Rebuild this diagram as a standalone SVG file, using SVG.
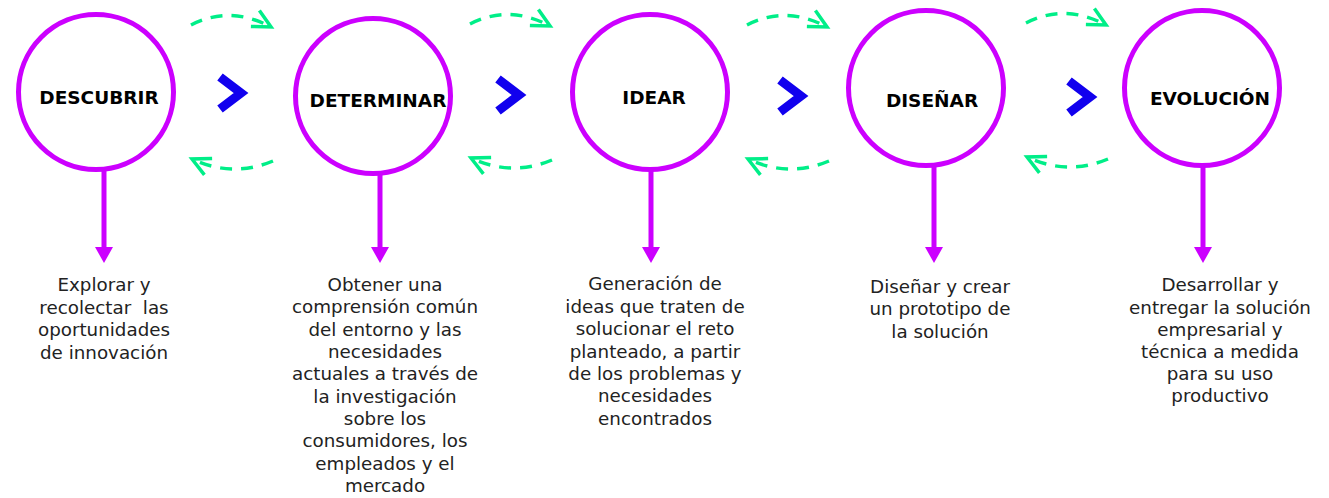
<svg xmlns="http://www.w3.org/2000/svg" width="1329" height="498" viewBox="0 0 1329 498">
<style>
.ring{fill:#fff;stroke:#cc00ff;stroke-width:5}
.title{font-family:"DejaVu Sans","Liberation Sans",sans-serif;font-weight:700;font-size:18.5px;fill:#000;text-anchor:middle}
.desc{font-family:"DejaVu Sans","Liberation Sans",sans-serif;font-size:18.3px;fill:#222;text-anchor:middle}
.stem{stroke:#cc00ff;stroke-width:5;fill:none}
.head{fill:#cc00ff}
.chev{fill:none;stroke:#1100ee;stroke-width:9;stroke-linejoin:miter}
.loop{fill:none;stroke:#00ee88;stroke-width:3.5;stroke-dasharray:12 9;marker-end:url(#open)}
</style>
<defs>
<marker id="open" markerUnits="userSpaceOnUse" viewBox="-22 -12 26 24" refX="0" refY="0" markerWidth="26" markerHeight="24" orient="auto">
<path d="M-18,-9 L0,0 L-18,9" fill="none" stroke="#00ee88" stroke-width="3.5"/>
</marker>
<g id="loops">
<path class="loop" d="M191,25 Q230,5 271,27"/>
<path class="loop" d="M273,161 Q232,178 192,159"/>
</g>
</defs>
<g id="connectors">
<path class="stem" d="M104,170 V249"/><polygon class="head" points="95,247 113,247 104,263"/>
<path class="stem" d="M380,174 V249"/><polygon class="head" points="371,247 389,247 380,263"/>
<path class="stem" d="M651,170 V249"/><polygon class="head" points="642,247 660,247 651,263"/>
<path class="stem" d="M934,166 V249"/><polygon class="head" points="925,247 943,247 934,263"/>
<path class="stem" d="M1203,166 V249"/><polygon class="head" points="1194,247 1212,247 1203,263"/>
<path class="chev" d="M220,77 L241,93 L220,109"/>
<path class="chev" d="M498,79 L519,95 L498,111"/>
<path class="chev" d="M780,80 L801,96 L780,112"/>
<path class="chev" d="M1069,81 L1090,97 L1069,113"/>
<use href="#loops"/>
<use href="#loops" transform="translate(279,-1)"/>
<use href="#loops" transform="translate(556,0)"/>
<use href="#loops" transform="translate(835,-2)"/>
</g>
<g id="descubrir">
<circle class="ring" cx="96" cy="92" r="77.5"/>
<text class="title" x="99" y="104">DESCUBRIR</text>
<text class="desc" xml:space="preserve"><tspan x="104" y="291">Explorar y</tspan><tspan x="104" y="314">recolectar  las</tspan><tspan x="104" y="336">oportunidades</tspan><tspan x="104" y="359">de innovación</tspan></text>
</g>
<g id="determinar">
<circle class="ring" cx="373" cy="96" r="77.5"/>
<text class="title" x="378" y="107">DETERMINAR</text>
<text class="desc"><tspan x="385" y="291">Obtener una</tspan><tspan x="385" y="313">comprensión común</tspan><tspan x="385" y="336">del entorno y las</tspan><tspan x="385" y="358">necesidades</tspan><tspan x="385" y="380">actuales a través de</tspan><tspan x="385" y="403">la investigación</tspan><tspan x="385" y="425">sobre los</tspan><tspan x="385" y="447">consumidores, los</tspan><tspan x="385" y="470">empleados y el</tspan><tspan x="385" y="492">mercado</tspan></text>
</g>
<g id="idear">
<circle class="ring" cx="650" cy="92" r="77.5"/>
<text class="title" x="654" y="104">IDEAR</text>
<text class="desc"><tspan x="655" y="290">Generación de</tspan><tspan x="655" y="313">ideas que traten de</tspan><tspan x="655" y="335">solucionar el reto</tspan><tspan x="655" y="358">planteado, a partir</tspan><tspan x="655" y="380">de los problemas y</tspan><tspan x="655" y="402">necesidades</tspan><tspan x="655" y="425">encontrados</tspan></text>
</g>
<g id="disenar">
<circle class="ring" cx="926" cy="88" r="77.5"/>
<text class="title" x="932" y="107">DISEÑAR</text>
<text class="desc"><tspan x="940" y="293">Diseñar y crear</tspan><tspan x="940" y="315">un prototipo de</tspan><tspan x="940" y="338">la solución</tspan></text>
</g>
<g id="evolucion">
<circle class="ring" cx="1202" cy="88" r="77.5"/>
<text class="title" x="1210" y="105">EVOLUCIÓN</text>
<text class="desc"><tspan x="1220" y="291">Desarrollar y</tspan><tspan x="1220" y="314">entregar la solución</tspan><tspan x="1220" y="336">empresarial y</tspan><tspan x="1220" y="358">técnica a medida</tspan><tspan x="1220" y="380">para su uso</tspan><tspan x="1220" y="402">productivo</tspan></text>
</g>
</svg>
